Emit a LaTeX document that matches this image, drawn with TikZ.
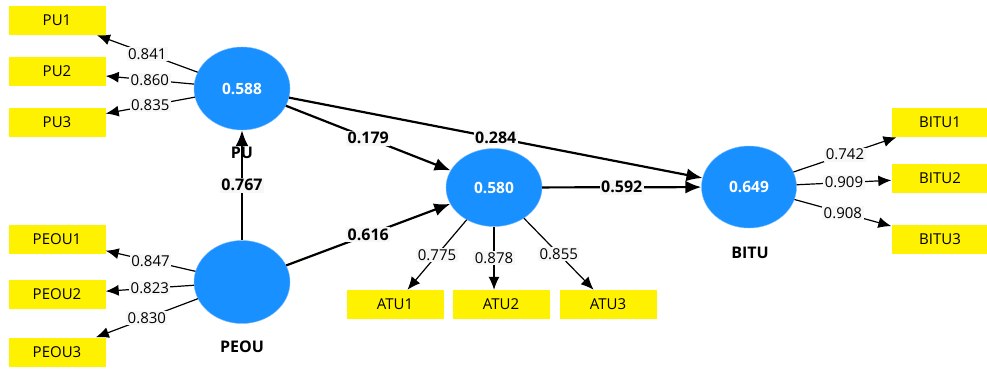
\documentclass[tikz,border=0pt]{standalone}
\usepackage{fontspec}
\setmainfont{Open Sans}
\usetikzlibrary{arrows.meta,shapes.geometric}
\definecolor{lvblue}{RGB}{24,144,255}
\definecolor{lvedge}{RGB}{120,185,255}
\definecolor{labgray}{RGB}{247,247,247}
\begin{document}
\begin{tikzpicture}[x=1pt,y=-1pt,
  lv/.style={ellipse,fill=lvblue,draw=lvedge,minimum width=96pt,minimum height=83pt,inner sep=0pt,text=white,font=\fontsize{15.5}{15.5}\selectfont\bfseries},
  mv/.style={fill=yellow,minimum width=97pt,minimum height=29pt,inner sep=0pt,font=\fontsize{15}{15}\selectfont},
  load/.style={-{Latex[length=13pt,width=11pt]},line width=1.2pt},
  coef/.style={-{Latex[length=16pt,width=13pt]},line width=2.2pt},
  lab/.style={fill=labgray,inner sep=1.5pt,font=\fontsize{15}{15}\selectfont},
  blab/.style={lab,font=\fontsize{16}{16}\selectfont\bfseries},
  lvname/.style={font=\fontsize{16}{16}\selectfont\bfseries}]
\useasboundingbox (0,0) rectangle (987,368);
\node[lv] (PU) at (242,88.5) {0.588};
\node[lv] (PEOU) at (242,282) {};
\node[lv,minimum height=78pt] (ATU) at (494,187.5) {0.580};
\node[lv,minimum width=95pt,minimum height=82pt] (BITU) at (749,187) {0.649};
\node[lvname] (PUt) at (242,153) {PU};
\node[lvname] (PEOUt) at (242,347) {PEOU};
\node[lvname] (BITUt) at (750,253) {BITU};
\node[mv] (PU1) at (57,20.5) {PU1};
\node[mv] (PU2) at (57,71.5) {PU2};
\node[mv] (PU3) at (57,122.5) {PU3};
\node[mv] (PEOU1) at (57,239.5) {PEOU1};
\node[mv] (PEOU2) at (57,294.5) {PEOU2};
\node[mv] (PEOU3) at (57,352) {PEOU3};
\node[mv] (ATU1) at (395,304.5) {ATU1};
\node[mv] (ATU2) at (501,304.5) {ATU2};
\node[mv] (ATU3) at (608,304.5) {ATU3};
\node[mv] (BITU1) at (940,122.5) {BITU1};
\node[mv] (BITU2) at (940,178) {BITU2};
\node[mv] (BITU3) at (940,239.5) {BITU3};
\draw[load] (PU) -- node[lab] {0.841} (PU1);
\draw[load] (PU) -- node[lab] {0.860} (PU2);
\draw[load] (PU) -- node[lab] {0.835} (PU3);
\draw[load] (PEOU) -- node[lab] {0.847} (PEOU1);
\draw[load] (PEOU) -- node[lab] {0.823} (PEOU2);
\draw[load] (PEOU) -- node[lab] {0.830} (PEOU3);
\draw[load] (ATU) -- node[lab] {0.775} (ATU1);
\draw[load] (ATU.south) -- node[lab] {0.878} (ATU.south |- ATU2.north);
\draw[load] (ATU) -- node[lab] {0.855} (ATU3);
\draw[load] (BITU) -- node[lab] {0.742} (BITU1);
\draw[load] (BITU) -- node[lab] {0.909} (BITU2);
\draw[load] (BITU) -- node[lab] {0.908} (BITU3);
\draw[coef] (PEOU) -- node[blab] {0.767} (PU);
\draw[coef] (PU) -- node[blab] {0.179} (ATU);
\draw[coef] (PU) -- node[blab] {0.284} (BITU);
\draw[coef] (PEOU) -- node[blab] {0.616} (ATU);
\draw[coef] (ATU) -- node[blab] {0.592} (BITU);
\end{tikzpicture}
\end{document}
